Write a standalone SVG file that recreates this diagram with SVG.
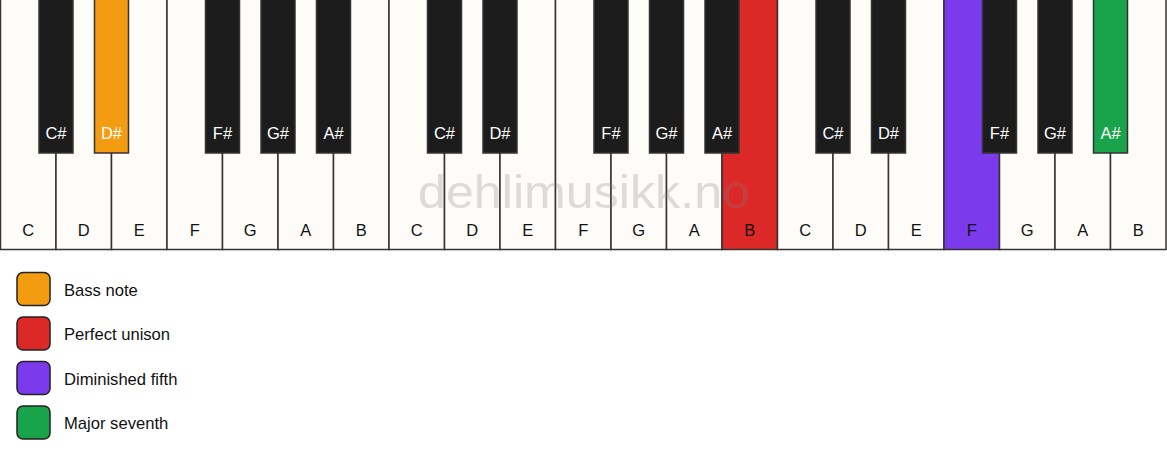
<svg xmlns="http://www.w3.org/2000/svg" width="1167" height="461" viewBox="0 0 1167 461">
<style>
.w{fill:#fdfcf9;stroke:#333;stroke-width:1.5}
.b{fill:#1c1c1c;stroke:#333;stroke-width:1.5}
.wt{font-family:"Liberation Sans",Arial,sans-serif;font-size:16.5px;fill:#111;text-anchor:middle}
.bt{font-family:"Liberation Sans",Arial,sans-serif;font-size:16.5px;fill:#fff;text-anchor:middle}
.lg{stroke:#222;stroke-width:1.5}
.lt{font-family:"Liberation Sans",Arial,sans-serif;font-size:16.6px;fill:#111}
.wm{font-family:"Liberation Sans",Arial,sans-serif;font-size:46px;fill:#808080;opacity:0.26;text-anchor:middle}
</style>
<rect width="1167" height="461" fill="#ffffff"/>
<g id="white-keys">
<g id="w0"><rect class="w" x="0.5" y="-1" width="55.5" height="250.5"/><text class="wt" x="28.25" y="236">C</text></g>
<g id="w1"><rect class="w" x="56" y="-1" width="55.5" height="250.5"/><text class="wt" x="83.75" y="236">D</text></g>
<g id="w2"><rect class="w" x="111.5" y="-1" width="55.5" height="250.5"/><text class="wt" x="139.25" y="236">E</text></g>
<g id="w3"><rect class="w" x="167" y="-1" width="55.5" height="250.5"/><text class="wt" x="194.75" y="236">F</text></g>
<g id="w4"><rect class="w" x="222.5" y="-1" width="55.5" height="250.5"/><text class="wt" x="250.25" y="236">G</text></g>
<g id="w5"><rect class="w" x="278" y="-1" width="55.5" height="250.5"/><text class="wt" x="305.75" y="236">A</text></g>
<g id="w6"><rect class="w" x="333.5" y="-1" width="55.5" height="250.5"/><text class="wt" x="361.25" y="236">B</text></g>
<g id="w7"><rect class="w" x="389" y="-1" width="55.5" height="250.5"/><text class="wt" x="416.75" y="236">C</text></g>
<g id="w8"><rect class="w" x="444.5" y="-1" width="55.5" height="250.5"/><text class="wt" x="472.25" y="236">D</text></g>
<g id="w9"><rect class="w" x="500" y="-1" width="55.5" height="250.5"/><text class="wt" x="527.75" y="236">E</text></g>
<g id="w10"><rect class="w" x="555.5" y="-1" width="55.5" height="250.5"/><text class="wt" x="583.25" y="236">F</text></g>
<g id="w11"><rect class="w" x="611" y="-1" width="55.5" height="250.5"/><text class="wt" x="638.75" y="236">G</text></g>
<g id="w12"><rect class="w" x="666.5" y="-1" width="55.5" height="250.5"/><text class="wt" x="694.25" y="236">A</text></g>
<g id="w13"><rect class="w" x="722" y="-1" width="55.5" height="250.5" style="fill:#dd2828"/><text class="wt" x="749.75" y="236">B</text></g>
<g id="w14"><rect class="w" x="777.5" y="-1" width="55.5" height="250.5"/><text class="wt" x="805.25" y="236">C</text></g>
<g id="w15"><rect class="w" x="833" y="-1" width="55.5" height="250.5"/><text class="wt" x="860.75" y="236">D</text></g>
<g id="w16"><rect class="w" x="888.5" y="-1" width="55.5" height="250.5"/><text class="wt" x="916.25" y="236">E</text></g>
<g id="w17"><rect class="w" x="944" y="-1" width="55.5" height="250.5" style="fill:#7b3aec"/><text class="wt" x="971.75" y="236">F</text></g>
<g id="w18"><rect class="w" x="999.5" y="-1" width="55.5" height="250.5"/><text class="wt" x="1027.25" y="236">G</text></g>
<g id="w19"><rect class="w" x="1055" y="-1" width="55.5" height="250.5"/><text class="wt" x="1082.75" y="236">A</text></g>
<g id="w20"><rect class="w" x="1110.5" y="-1" width="55.5" height="250.5"/><text class="wt" x="1138.25" y="236">B</text></g>
</g>
<text class="wm" x="584" y="208" textLength="332" lengthAdjust="spacingAndGlyphs">dehlimusikk.no</text>
<g id="black-keys">
<g id="b0"><rect class="b" x="39" y="-1" width="34" height="154"/><text class="bt" x="56" y="139">C#</text></g>
<g id="b1"><rect class="b" x="94.5" y="-1" width="34" height="154" style="fill:#f39c12"/><text class="bt" x="111.5" y="139">D#</text></g>
<g id="b2"><rect class="b" x="205.5" y="-1" width="34" height="154"/><text class="bt" x="222.5" y="139">F#</text></g>
<g id="b3"><rect class="b" x="261" y="-1" width="34" height="154"/><text class="bt" x="278" y="139">G#</text></g>
<g id="b4"><rect class="b" x="316.5" y="-1" width="34" height="154"/><text class="bt" x="333.5" y="139">A#</text></g>
<g id="b5"><rect class="b" x="427.5" y="-1" width="34" height="154"/><text class="bt" x="444.5" y="139">C#</text></g>
<g id="b6"><rect class="b" x="483" y="-1" width="34" height="154"/><text class="bt" x="500" y="139">D#</text></g>
<g id="b7"><rect class="b" x="594" y="-1" width="34" height="154"/><text class="bt" x="611" y="139">F#</text></g>
<g id="b8"><rect class="b" x="649.5" y="-1" width="34" height="154"/><text class="bt" x="666.5" y="139">G#</text></g>
<g id="b9"><rect class="b" x="705" y="-1" width="34" height="154"/><text class="bt" x="722" y="139">A#</text></g>
<g id="b10"><rect class="b" x="816" y="-1" width="34" height="154"/><text class="bt" x="833" y="139">C#</text></g>
<g id="b11"><rect class="b" x="871.5" y="-1" width="34" height="154"/><text class="bt" x="888.5" y="139">D#</text></g>
<g id="b12"><rect class="b" x="982.5" y="-1" width="34" height="154"/><text class="bt" x="999.5" y="139">F#</text></g>
<g id="b13"><rect class="b" x="1038" y="-1" width="34" height="154"/><text class="bt" x="1055" y="139">G#</text></g>
<g id="b14"><rect class="b" x="1093.5" y="-1" width="34" height="154" style="fill:#19a34a"/><text class="bt" x="1110.5" y="139">A#</text></g>
</g>
<g id="legend">
<g id="lg-bass"><rect class="lg" x="17" y="272.5" width="33" height="33" rx="6" fill="#f39c12"/><text class="lt" x="64" y="295.5">Bass note</text></g>
<g id="lg-unison"><rect class="lg" x="17" y="317" width="33" height="33" rx="6" fill="#dd2828"/><text class="lt" x="64" y="340">Perfect unison</text></g>
<g id="lg-dim5"><rect class="lg" x="17" y="361.5" width="33" height="33" rx="6" fill="#7b3aec"/><text class="lt" x="64" y="384.5">Diminished fifth</text></g>
<g id="lg-maj7"><rect class="lg" x="17" y="406" width="33" height="33" rx="6" fill="#19a34a"/><text class="lt" x="64" y="429">Major seventh</text></g>
</g>
<g id="connectors"/>
</svg>
